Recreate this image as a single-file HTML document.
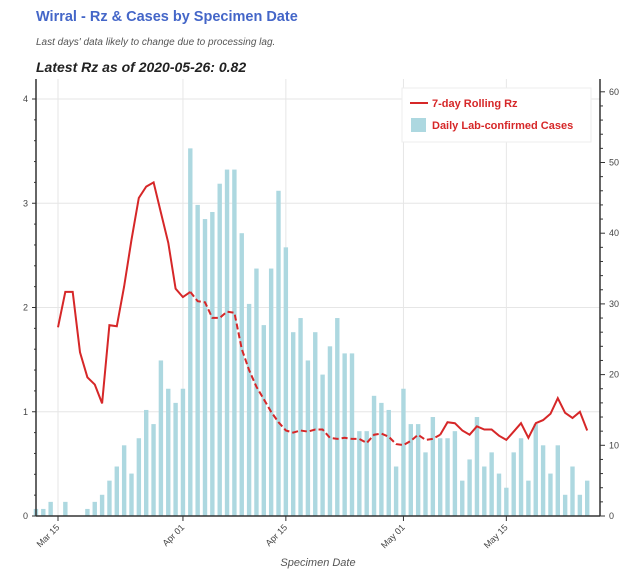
<!DOCTYPE html>
<html><head><meta charset="utf-8"><style>
body{margin:0;background:#fff;width:640px;height:579px;overflow:hidden;font-family:"Liberation Sans",sans-serif}
</style></head><body>
<svg width="640" height="579" id="chart" font-family="Liberation Sans, sans-serif">
<text x="36" y="21" fill="#4466c8" font-size="14.5" font-weight="bold">Wirral - Rz &amp; Cases by Specimen Date</text>
<text x="36" y="45" fill="#555" font-size="10" font-style="italic">Last days' data likely to change due to processing lag.</text>
<text x="36" y="72" fill="#222" font-size="14" font-weight="bold" font-style="italic">Latest Rz as of 2020-05-26: 0.82</text>
<g id="grid"></g><g id="bars"></g><g id="line"></g><g id="axes"></g>
<text x="318" y="566" text-anchor="middle" fill="#555" font-size="11" font-style="italic">Specimen Date</text>
<g>
<rect x="402" y="88" width="189" height="54" fill="#fff" stroke="#eee"/>
<line x1="410" y1="103" x2="428" y2="103" stroke="#d62728" stroke-width="2"/>
<text x="432" y="107" fill="#d62728" font-size="11" font-weight="bold">7-day Rolling Rz</text>
<rect x="411" y="118" width="15" height="14" fill="#add8e0"/>
<text x="432" y="129" fill="#d62728" font-size="11" font-weight="bold">Daily Lab-confirmed Cases</text>
</g>
</svg>
<script>
const caseStart = -3; // Mar 12 relative to Mar 15
const cases = [1,1,2,0,2,0,0,1,2,3,5,7,10,6,11,15,13,22,18,16,18,52,44,42,43,47,49,49,40,30,35,27,35,46,38,26,28,22,26,20,24,28,23,23,12,12,17,16,15,7,18,13,13,9,14,11,11,12,5,8,14,7,9,6,4,9,11,5,13,10,6,10,3,7,3,5];
const rz = [1.81,2.15,2.15,1.57,1.33,1.26,1.08,1.83,1.82,2.2,2.65,3.05,3.16,3.2,2.91,2.62,2.18,2.1,2.15,2.06,2.05,1.9,1.9,1.96,1.95,1.6,1.4,1.24,1.12,1.0,0.9,0.82,0.8,0.82,0.81,0.83,0.83,0.75,0.74,0.75,0.74,0.74,0.7,0.78,0.79,0.76,0.69,0.68,0.72,0.78,0.73,0.74,0.78,0.9,0.89,0.82,0.78,0.86,0.83,0.83,0.77,0.73,0.81,0.89,0.75,0.89,0.92,0.98,1.13,0.99,0.94,1.0,0.82];
const dashStart = 18, dashEnd = 52;
const xTickLabels = ["Mar 15","Apr 01","Apr 15","May 01","May 15"];
const xTickDays = [0,17,31,47,61];
const leftTicks = [0,1,2,3,4];
const rightTicks = [0,10,20,30,40,50,60];
const NS="http://www.w3.org/2000/svg";
const X0=36,X1=600,Y0=516,YT=79;
const x=d=>58+d*7.35;
const yL=v=>Y0-v*104.25;
const yR=v=>Y0-v*7.07;
function el(t,a,p){const e=document.createElementNS(NS,t);for(const k in a)e.setAttribute(k,a[k]);document.getElementById(p).appendChild(e);return e;}
// grid
xTickDays.forEach(d=>{const g=el('line',{x1:x(d),x2:x(d),y1:YT,y2:Y0,stroke:'#e6e6e6'},'grid');

});
leftTicks.forEach(v=>{const g=el('line',{x1:X0,x2:X1,y1:yL(v),y2:yL(v),stroke:'#e6e6e6'},'grid');

});
// bars
cases.forEach((c,i)=>{if(!c)return;const d=caseStart+i;const r=el('rect',{x:x(d)-2.2,y:yR(c),width:4.4,height:Y0-yR(c),fill:'#add8e0'},'bars');

});
// line
function pts(a,b){let s=[];for(let i=a;i<=b;i++)s.push(x(i).toFixed(1)+','+yL(rz[i]).toFixed(1));return s.join(' ');}
let p1=el('polyline',{points:pts(0,dashStart),fill:'none',stroke:'#d62728','stroke-width':2},'line');


let p2=el('polyline',{points:pts(dashStart,dashEnd),fill:'none',stroke:'#d62728','stroke-width':2,'stroke-dasharray':'6,3'},'line');


let p3=el('polyline',{points:pts(dashEnd,rz.length-1),fill:'none',stroke:'#d62728','stroke-width':2},'line');


// axes
let a;
a=el('line',{x1:X0,x2:X0,y1:YT,y2:Y0,stroke:'#333','stroke-width':1.5},'axes');


a=el('line',{x1:X1,x2:X1,y1:YT,y2:Y0,stroke:'#333','stroke-width':1.5},'axes');


a=el('line',{x1:X0,x2:X1,y1:Y0,y2:Y0,stroke:'#333','stroke-width':1.5},'axes');


for(let v=0;v<=4.01;v+=0.2){el('line',{x1:X0-(Math.abs(v-Math.round(v))<0.01?4:2),x2:X0,y1:yL(v),y2:yL(v),stroke:'#333'},'axes');}
leftTicks.forEach(v=>{const t=el('text',{x:X0-8,y:yL(v)+3,'text-anchor':'end','font-size':9,fill:'#444'},'axes');t.textContent=v;

});
for(let v=0;v<=60;v+=2){el('line',{x1:X1,x2:X1+(v%10===0?5:3),y1:yR(v),y2:yR(v),stroke:'#333'},'axes');}
rightTicks.forEach(v=>{const t=el('text',{x:X1+9,y:yR(v)+3,'font-size':9,fill:'#444'},'axes');t.textContent=v;

});
xTickDays.forEach((d,i)=>{el('line',{x1:x(d),x2:x(d),y1:Y0,y2:Y0+5,stroke:'#333'},'axes');
const t=el('text',{x:x(d)+2,y:Y0+12,'text-anchor':'end','font-size':9,fill:'#444',transform:`rotate(-45 ${x(d)+2} ${Y0+12})`},'axes');t.textContent=xTickLabels[i];

});
</script>
</body></html>
